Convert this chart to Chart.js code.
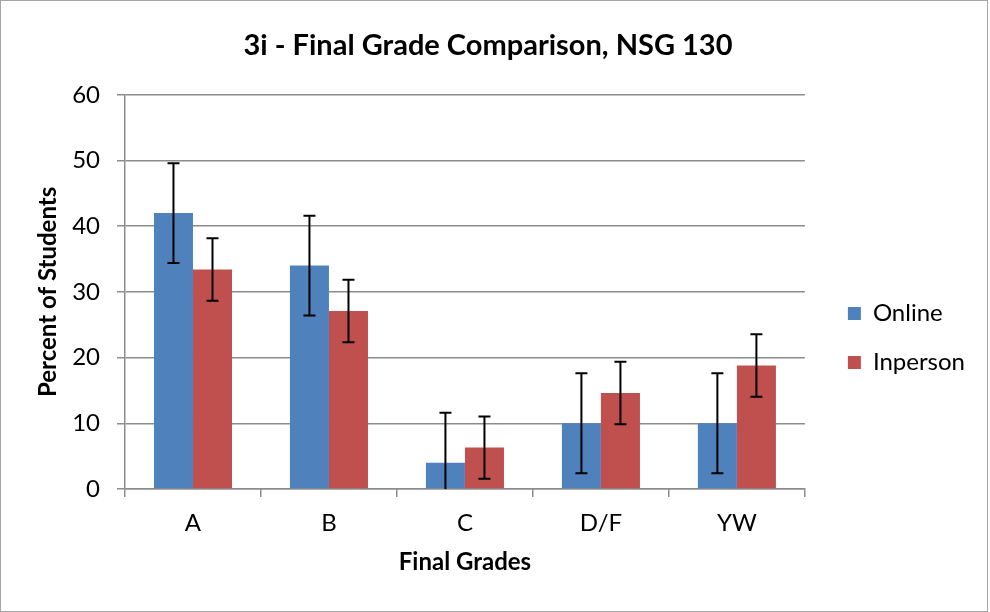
<!DOCTYPE html>
<html>
<head>
<meta charset="utf-8">
<script src="https://cdn.jsdelivr.net/npm/chart.js@4/dist/chart.umd.min.js"></script>
<style>
	html, body { margin: 0; padding: 0; background: #fff; }
	#frame {
		position: absolute; left: 0; top: 0;
		width: 986px; height: 610px;
		border: 1px solid #a6a6a6;
	}
</style>
</head>
<body>
<div id="frame"><canvas id="chart" width="986" height="610"></canvas></div>
<script>
"use strict";


const grades = ["A", "B", "C", "D/F", "YW"];
const online = [42, 34, 4, 10, 10];
const inperson = [33.4, 27.1, 6.3, 14.6, 18.8];
const onlineErr = [7.6, 7.6, 7.6, 7.6, 7.6];
const inpersonErr = [4.75, 4.75, 4.75, 4.75, 4.75];
const yTicks = [0, 10, 20, 30, 40, 50, 60];


const fontFamily = "Lato, 'Open Sans', sans-serif";
const axisGray = "#8c8c8c";


// draws the black error whiskers on top of each bar
const errorBars = {
	id: "errorBars",
	afterDatasetsDraw(chart) {
		const ctx = chart.ctx;
		const yScale = chart.scales.y;
		ctx.save();
		ctx.strokeStyle = "#000";
		ctx.lineWidth = 2;
		chart.data.datasets.forEach((set, i) => {
			const meta = chart.getDatasetMeta(i);
			meta.data.forEach((bar, j) => {
				const v = set.data[j];
				const e = set.errors[j];
				const top = yScale.getPixelForValue(v + e);
				const bot = yScale.getPixelForValue(Math.max(0, v - e));
				const cap = 6;
				ctx.beginPath();
				ctx.moveTo(bar.x, top);
				ctx.lineTo(bar.x, bot);
				ctx.moveTo(bar.x - cap, top);
				ctx.lineTo(bar.x + cap, top);
				if (v - e > 0) {
					ctx.moveTo(bar.x - cap, bot);
					ctx.lineTo(bar.x + cap, bot);
				}
				ctx.stroke();
			});
		});
		ctx.restore();
	}
};


// nudge the legend down a bit, excel centres it lower than chart.js does
const legendShift = {
	id: "legendShift",
	afterLayout(chart) {
		chart.legend.top += 37;
		chart.legend.bottom += 37;
	}
};


const ctx = document.getElementById("chart").getContext("2d");

new Chart(ctx, {
	type: "bar",
	data: {
		labels: grades,
		datasets: [
			{ label: "Online", data: online, errors: onlineErr, backgroundColor: "#4f81bd" },
			{ label: "Inperson", data: inperson, errors: inpersonErr, backgroundColor: "#c0504d" },
		],
	},
	options: {
		responsive: false,
		animation: false,
		categoryPercentage: 0.574,
		barPercentage: 1,
		layout: {
			padding: { top: 20, right: 12, bottom: 30, left: 0 },
		},
		plugins: {
			title: {
				display: true,
				text: "3i - Final Grade Comparison, NSG 130",
				color: "#000",
				font: { family: fontFamily, size: 29, weight: "bold" },
				padding: { top: 7, bottom: 32 },
			},
			legend: {
				position: "right",
				labels: {
					color: "#000",
					boxWidth: 13,
					boxHeight: 13,
					padding: 25,
					font: { family: fontFamily, size: 24 },
				},
			},
			tooltip: { enabled: false },
		},
		scales: {
			x: {
				grid: {
					offset: true,
					drawOnChartArea: false,
					tickLength: 8,
					color: axisGray,
					lineWidth: 1.5,
				},
				border: { color: axisGray, width: 1.5 },
				ticks: {
					color: "#000",
					padding: 12,
					font: { family: fontFamily, size: 24 },
				},
				title: {
					display: true,
					text: "Final Grades",
					color: "#000",
					font: { family: fontFamily, size: 24, weight: "bold" },
					padding: { top: 4, bottom: 4 },
				},
				afterFit: scale => { scale.height = 92; },
			},
			y: {
				min: 0,
				max: 60,
				afterBuildTicks: scale => { scale.ticks = yTicks.map(v => ({ value: v })); },
				grid: {
					color: axisGray,
					lineWidth: 1.5,
					tickLength: 8,
				},
				border: { color: axisGray, width: 1.5 },
				ticks: {
					color: "#000",
					padding: 17,
					font: { family: fontFamily, size: 24 },
				},
				title: {
					display: true,
					text: "Percent of Students",
					color: "#000",
					font: { family: fontFamily, size: 24, weight: "bold" },
					padding: { top: 33, bottom: 4 },
				},
				afterFit: scale => { scale.width = 124; },
			},
			spacer: {
				type: "linear",
				position: "right",
				grid: { display: false },
				border: { display: false },
				ticks: { display: false },
				afterFit: scale => { scale.width = 18; },
			},
		},
	},
	plugins: [errorBars, legendShift],
});
</script>
</body>
</html>
